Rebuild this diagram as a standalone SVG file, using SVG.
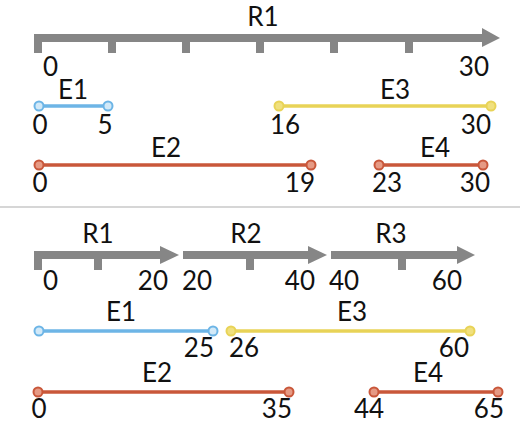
<svg xmlns="http://www.w3.org/2000/svg" width="530" height="427" viewBox="0 0 530 427">
<style>
text{font-family:Lato,"Noto Sans","Liberation Sans",sans-serif;font-size:26px;fill:#111}
.m{text-anchor:middle}.e{text-anchor:end}.s{text-anchor:start}
.bar{fill:#868686}
.blue{stroke:#6db5e6;stroke-width:3.5}
.bluec{fill:#d2e9f8;stroke:#6db5e6;stroke-width:2}
.yel{stroke:#e8d357;stroke-width:3.5}
.yelc{fill:#f0e07e;stroke:#e8d357;stroke-width:2}
.red{stroke:#c9573a;stroke-width:3.5}
.redc{fill:#e69a84;stroke:#c9573a;stroke-width:2}
</style>
<line x1="0" y1="207" x2="520" y2="207" stroke="#c8c8c8" stroke-width="1.5"/>
<g id="top-R1">
<rect class="bar" x="34" y="34" width="450" height="8"/>
<polygon class="bar" points="482,28 500,38 482,47"/>
<rect class="bar" x="34" y="34" width="8" height="19"/>
<rect class="bar" x="108" y="34" width="8" height="19"/>
<rect class="bar" x="182" y="34" width="8" height="19"/>
<rect class="bar" x="256" y="34" width="8" height="19"/>
<rect class="bar" x="330" y="34" width="8" height="19"/>
<rect class="bar" x="405" y="34" width="8" height="19"/>
<text class="m" x="263" y="26">R1</text>
<text class="s" x="43" y="76">0</text>
<text class="e" x="489" y="76">30</text>
</g>
<g id="top-E1">
<line class="blue" x1="39" y1="106" x2="108" y2="106"/>
<circle class="bluec" cx="39" cy="106" r="4.5"/>
<circle class="bluec" cx="108" cy="106" r="4.5"/>
<text class="m" x="73" y="99">E1</text>
<text class="m" x="40" y="134">0</text>
<text class="m" x="105" y="134">5</text>
</g>
<g id="top-E3">
<line class="yel" x1="279" y1="106" x2="491" y2="106"/>
<circle class="yelc" cx="279" cy="106" r="4.5"/>
<circle class="yelc" cx="491" cy="106" r="4.5"/>
<text class="m" x="395" y="99">E3</text>
<text class="s" x="270" y="134">16</text>
<text class="e" x="491" y="134">30</text>
</g>
<g id="top-E2">
<line class="red" x1="39" y1="165" x2="311" y2="165"/>
<circle class="redc" cx="39" cy="165" r="4.5"/>
<circle class="redc" cx="311" cy="165" r="4.5"/>
<text class="m" x="166" y="157">E2</text>
<text class="m" x="40" y="192">0</text>
<text class="e" x="315" y="192">19</text>
</g>
<g id="top-E4">
<line class="red" x1="379" y1="165" x2="483" y2="165"/>
<circle class="redc" cx="379" cy="165" r="4.5"/>
<circle class="redc" cx="483" cy="165" r="4.5"/>
<text class="m" x="435" y="157">E4</text>
<text class="s" x="372" y="192">23</text>
<text class="e" x="490" y="192">30</text>
</g>
<g id="bot-R1">
<rect class="bar" x="34" y="251" width="128" height="8"/>
<polygon class="bar" points="160,246 179,255 160,264"/>
<rect class="bar" x="34" y="251" width="8" height="19"/>
<rect class="bar" x="94" y="251" width="8" height="19"/>
<text class="m" x="98" y="243">R1</text>
<text class="s" x="43" y="290">0</text>
<text class="e" x="168" y="290">20</text>
</g>
<g id="bot-R2">
<rect class="bar" x="183" y="251" width="127" height="8"/>
<polygon class="bar" points="308,246 327,255 308,264"/>
<rect class="bar" x="246" y="251" width="8" height="19"/>
<text class="m" x="246" y="243">R2</text>
<text class="s" x="182" y="290">20</text>
<text class="e" x="315" y="290">40</text>
</g>
<g id="bot-R3">
<rect class="bar" x="331" y="251" width="128" height="8"/>
<polygon class="bar" points="457,246 475,255 457,264"/>
<rect class="bar" x="398" y="251" width="8" height="19"/>
<text class="m" x="391" y="243">R3</text>
<text class="s" x="329" y="290">40</text>
<text class="e" x="462" y="290">60</text>
</g>
<g id="bot-E1">
<line class="blue" x1="39" y1="331" x2="213" y2="331"/>
<circle class="bluec" cx="39" cy="331" r="4.5"/>
<circle class="bluec" cx="213" cy="331" r="4.5"/>
<text class="m" x="121" y="321">E1</text>
<text class="e" x="214" y="357">25</text>
</g>
<g id="bot-E3">
<line class="yel" x1="231" y1="331" x2="470" y2="331"/>
<circle class="yelc" cx="231" cy="331" r="4.5"/>
<circle class="yelc" cx="470" cy="331" r="4.5"/>
<text class="m" x="352" y="321">E3</text>
<text class="s" x="229" y="357">26</text>
<text class="e" x="469" y="357">60</text>
</g>
<g id="bot-E2">
<line class="red" x1="38" y1="392" x2="289" y2="392"/>
<circle class="redc" cx="38" cy="392" r="4.5"/>
<circle class="redc" cx="289" cy="392" r="4.5"/>
<text class="m" x="157" y="382">E2</text>
<text class="m" x="39" y="418">0</text>
<text class="e" x="292" y="418">35</text>
</g>
<g id="bot-E4">
<line class="red" x1="374" y1="392" x2="498" y2="392"/>
<circle class="redc" cx="374" cy="392" r="4.5"/>
<circle class="redc" cx="498" cy="392" r="4.5"/>
<text class="m" x="428" y="382">E4</text>
<text class="s" x="354" y="418">44</text>
<text class="e" x="504" y="418">65</text>
</g>
</svg>
